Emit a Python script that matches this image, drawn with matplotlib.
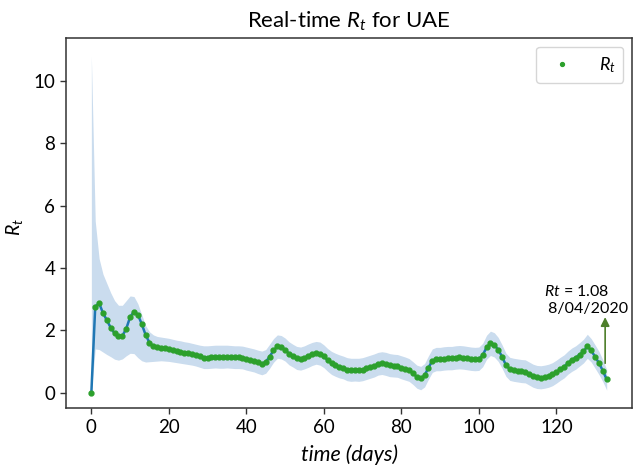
import matplotlib
matplotlib.use("Agg")
import matplotlib.pyplot as plt
import numpy as np

# ---- data ----
days = list(range(134))
rt = [0.00, 2.76, 2.87, 2.55, 2.32, 2.08, 1.90, 1.80, 1.82, 2.05,
      2.42, 2.60, 2.50, 2.20, 1.85, 1.60, 1.48, 1.45, 1.44, 1.42,
      1.40, 1.36, 1.33, 1.31, 1.28, 1.26, 1.24, 1.20, 1.16, 1.12,
      1.12, 1.14, 1.15, 1.14, 1.14, 1.15, 1.14, 1.13, 1.13, 1.12,
      1.08, 1.05, 1.02, 0.97, 0.93, 0.98, 1.15, 1.35, 1.48, 1.45,
      1.38, 1.25, 1.18, 1.10, 1.08, 1.12, 1.18, 1.24, 1.28, 1.25,
      1.16, 1.03, 0.94, 0.88, 0.83, 0.80, 0.74, 0.72, 0.73, 0.72,
      0.74, 0.78, 0.82, 0.86, 0.92, 0.94, 0.91, 0.87, 0.86, 0.85,
      0.80, 0.76, 0.72, 0.62, 0.50, 0.46, 0.55, 0.80, 1.02, 1.07,
      1.07, 1.09, 1.10, 1.10, 1.12, 1.13, 1.12, 1.10, 1.08, 1.07,
      1.08, 1.20, 1.45, 1.58, 1.52, 1.38, 1.15, 0.88, 0.75, 0.72,
      0.70, 0.68, 0.67, 0.60, 0.53, 0.49, 0.48, 0.50, 0.53, 0.58,
      0.66, 0.75, 0.83, 0.95, 1.05, 1.12, 1.22, 1.32, 1.48, 1.35,
      1.15, 0.95, 0.70, 0.42]
upper = [10.8, 5.50, 4.30, 3.80, 3.50, 3.20, 2.95, 2.80, 2.80, 2.95,
         3.10, 3.08, 2.85, 2.50, 2.15, 1.95, 1.85, 1.80, 1.78, 1.76,
         1.74, 1.71, 1.68, 1.66, 1.63, 1.61, 1.58, 1.55, 1.52, 1.50,
         1.50, 1.51, 1.52, 1.52, 1.52, 1.52, 1.51, 1.50, 1.50, 1.49,
         1.46, 1.43, 1.40, 1.36, 1.33, 1.38, 1.55, 1.73, 1.85, 1.83,
         1.75, 1.63, 1.55, 1.48, 1.46, 1.50, 1.56, 1.61, 1.64, 1.62,
         1.53, 1.41, 1.32, 1.26, 1.21, 1.17, 1.12, 1.10, 1.10, 1.10,
         1.12, 1.16, 1.20, 1.24, 1.29, 1.31, 1.29, 1.25, 1.23, 1.22,
         1.18, 1.14, 1.09, 0.99, 0.88, 0.84, 0.93, 1.18, 1.40, 1.45,
         1.45, 1.47, 1.48, 1.48, 1.50, 1.51, 1.50, 1.48, 1.46, 1.45,
         1.46, 1.58, 1.84, 1.97, 1.92, 1.77, 1.53, 1.26, 1.13, 1.10,
         1.08, 1.06, 1.05, 0.98, 0.91, 0.87, 0.86, 0.88, 0.91, 0.96,
         1.04, 1.13, 1.21, 1.33, 1.43, 1.50, 1.60, 1.71, 1.87, 1.73,
         1.53, 1.32, 1.05, 0.74]
lower = [0.00, 1.40, 1.38, 1.30, 1.22, 1.15, 1.07, 1.04, 1.08, 1.18,
         1.26, 1.25, 1.12, 1.02, 0.98, 0.99, 1.00, 1.01, 1.02, 1.01,
         1.00, 0.98, 0.96, 0.94, 0.92, 0.90, 0.88, 0.85, 0.81, 0.77,
         0.77, 0.78, 0.79, 0.78, 0.78, 0.79, 0.78, 0.77, 0.77, 0.76,
         0.72, 0.69, 0.66, 0.61, 0.57, 0.62, 0.78, 0.97, 1.10, 1.08,
         1.01, 0.89, 0.82, 0.74, 0.72, 0.76, 0.81, 0.87, 0.91, 0.88,
         0.80, 0.68, 0.58, 0.52, 0.47, 0.44, 0.38, 0.36, 0.37, 0.36,
         0.38, 0.42, 0.46, 0.50, 0.56, 0.58, 0.55, 0.51, 0.50, 0.49,
         0.44, 0.40, 0.36, 0.26, 0.14, 0.09, 0.18, 0.43, 0.65, 0.70,
         0.70, 0.72, 0.73, 0.73, 0.75, 0.76, 0.75, 0.73, 0.71, 0.70,
         0.71, 0.83, 1.07, 1.19, 1.14, 1.00, 0.78, 0.52, 0.39, 0.36,
         0.34, 0.32, 0.31, 0.24, 0.17, 0.13, 0.12, 0.14, 0.17, 0.22,
         0.30, 0.39, 0.47, 0.59, 0.68, 0.75, 0.85, 0.95, 1.10, 0.98,
         0.78, 0.58, 0.35, 0.08]
xticks = [0, 20, 40, 60, 80, 100, 120]
yticks = [0, 2, 4, 6, 8, 10]
annot_text = "$\\mathit{Rt}$ = 1.08\n 8/04/2020"
annot_day = 133

# ---- style ----
plt.rcParams['font.family'] = ['Lato', 'DejaVu Sans']
plt.rcParams['mathtext.fontset'] = 'custom'
plt.rcParams['mathtext.rm'] = 'Lato'
plt.rcParams['mathtext.it'] = 'Lato:italic'
plt.rcParams['mathtext.bf'] = 'Lato:bold'

fig = plt.figure(figsize=(6.35, 4.67), dpi=100)
ax = fig.add_axes([0.1033, 0.126, 0.8927, 0.793])

ax.fill_between(days, lower, upper, color='#cadcee', linewidth=0)
ax.plot(days, rt, color='#1f77b4', lw=1.8, zorder=2)
ax.plot(days, rt, '.', color='#2ca02c', markersize=7, label='$R_t$', zorder=3)

ax.annotate("", xy=(annot_day - 0.4, 2.42), xytext=(annot_day - 0.4, 0.94),
            arrowprops=dict(arrowstyle='-|>', color='#4e7f2b', lw=1.2,
                            mutation_scale=13, shrinkA=0, shrinkB=0))
ax.text(116.8, 2.45, annot_text, fontsize=11.5, ha='left',
        va='bottom', linespacing=1.3)

ax.set_xlim(-6.65, 139.65)
ax.set_ylim(-0.5, 11.38)
ax.set_xticks(xticks)
ax.set_yticks(yticks)
ax.tick_params(labelsize=13.5, length=4, width=1, color='#333333')
for s in ax.spines.values():
    s.set_color('#333333')
    s.set_linewidth(1.1)

ax.set_title('Real-time $R_t$ for UAE', fontsize=16, pad=7)
ax.set_xlabel('time (days)', fontsize=15.5, fontstyle='italic', labelpad=6)
ax.set_ylabel('$R_t$', fontsize=14)
ax.yaxis.set_label_coords(-0.072, 0.49)

leg = ax.legend(loc='upper right', fontsize=13, handletextpad=1.0,
                handlelength=2.0, borderpad=0.45, markerscale=0.8, frameon=True)

fig.savefig('out.png', dpi=100)
